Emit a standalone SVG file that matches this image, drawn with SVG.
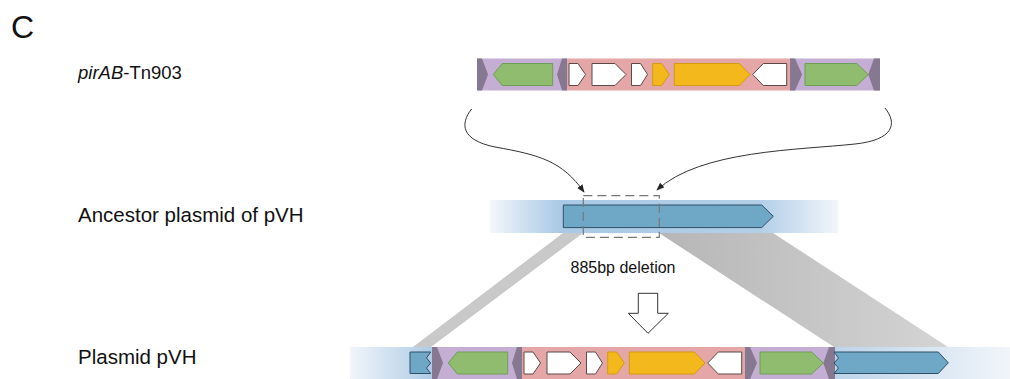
<svg xmlns="http://www.w3.org/2000/svg" xmlns:xlink="http://www.w3.org/1999/xlink" width="1010" height="379" viewBox="0 0 1010 379">
  <style>
    .lbl { font-family: "Liberation Sans", Arial, sans-serif; fill: #111; }
    .is { fill: #c4aed4; }
    .core { fill: #e4a6a6; }
    .ir { fill: #857890; }
    .tnp { fill: #8fbc6f; stroke: #6e9e55; stroke-width: 1; }
    .wht { fill: #ffffff; stroke: #5a4a4a; stroke-width: 1; }
    .yel { fill: #f3b81b; stroke: #d49a12; stroke-width: 1; }
    .blu { fill: #6fa8c6; stroke: #2f4f66; stroke-width: 1; }
    .curve { fill: none; stroke: #333; stroke-width: 1; marker-end: url(#tip); }
  </style>
  <defs>
    <marker id="tip" viewBox="0 0 10 10" refX="9" refY="5" markerWidth="8" markerHeight="8" markerUnits="userSpaceOnUse" orient="auto">
      <path d="M0,1 L10,5 L0,9 z" fill="#222"/>
    </marker>
    <linearGradient id="bgAnc" x1="0" y1="0" x2="1" y2="0">
      <stop offset="0" stop-color="#f4f7fb"/>
      <stop offset="0.2" stop-color="#a9c9e6"/>
      <stop offset="0.78" stop-color="#b3cfe8"/>
      <stop offset="1" stop-color="#f1f5fa"/>
    </linearGradient>
    <linearGradient id="bgLeft" x1="0" y1="0" x2="1" y2="0">
      <stop offset="0" stop-color="#f1f5fa"/>
      <stop offset="1" stop-color="#aecbe6"/>
    </linearGradient>
    <linearGradient id="bgRight" x1="0" y1="0" x2="1" y2="0">
      <stop offset="0" stop-color="#bcd4ea"/>
      <stop offset="1" stop-color="#f1f5fa"/>
    </linearGradient>
    <linearGradient id="bandR" x1="0" y1="0" x2="1" y2="0">
      <stop offset="0" stop-color="#b6b6b6"/>
      <stop offset="1" stop-color="#d4d4d4"/>
    </linearGradient>
    <!-- IS903-flanked pirAB cassette, local frame 403 x 32 -->
    <g id="cassette">
      <rect class="is" x="0" y="0" width="90" height="32"/>
      <rect class="core" x="90" y="0" width="223" height="32"/>
      <rect class="is" x="313" y="0" width="90" height="32"/>
      <polygon class="ir" points="0,0 5,0 11,16 5,32 0,32"/>
      <polygon class="tnp" points="16.3,16 25.3,5 75.7,5 75.7,27 25.3,27"/>
      <polygon class="ir" points="80,16 85,0 90,0 90,32 85,32"/>
      <polygon class="wht" points="92,5 101,5 108.5,16 101,27 92,27"/>
      <polygon class="wht" points="115,5 138,5 149,16 138,27 115,27"/>
      <polygon class="wht" points="154.5,5 163.5,5 170.5,16 163.5,27 154.5,27"/>
      <polygon class="yel" points="175.7,5 184.7,5 192.3,16 184.7,27 175.7,27"/>
      <polygon class="yel" points="197.3,5 262.3,5 273,16 262.3,27 197.3,27"/>
      <polygon class="wht" points="275.7,16 286.3,5 309.7,5 309.7,27 286.3,27"/>
      <polygon class="ir" points="313,0 318,0 325,16 318,32 313,32"/>
      <polygon class="tnp" points="328,5 379.7,5 391.3,16 379.7,27 328,27"/>
      <polygon class="ir" points="391.3,16 397,0 403,0 403,32 397,32"/>
    </g>
  </defs>

  <rect width="1010" height="379" fill="#ffffff"/>

  <!-- panel letter and row labels -->
  <text class="lbl" x="11" y="38" font-size="32">C</text>
  <text class="lbl" x="78" y="79" font-size="18.5"><tspan font-style="italic">pirAB</tspan>-Tn903</text>
  <text class="lbl" x="78" y="222" font-size="20.5">Ancestor plasmid of pVH</text>
  <text class="lbl" x="78" y="364" font-size="20.5">Plasmid pVH</text>
  <text class="lbl" x="570.5" y="273.3" font-size="16">885bp deletion</text>

  <!-- connectors: homology bands, insertion curves, deletion arrow -->
  <g id="connectors">
    <polygon points="563,233 583,233 431,347 413,347" fill="#c9c9c9"/>
    <polygon points="659,233 773,233 948,347 834,347" fill="url(#bandR)"/>
    <path class="curve" d="M471.5,109 C460,124 461,140 495,147 C540,155 562,161 584,192"/>
    <path class="curve" d="M885,108 C898,124 893,140 855,144 C800,150 700,150 657,190"/>
    <polygon points="638.3,293.3 657.7,293.3 657.7,313.3 668.3,313.3 648,333.3 628.3,313.3 638.3,313.3" fill="#ffffff" stroke="#333" stroke-width="1"/>
  </g>

  <!-- transposon -->
  <g id="tn903">
    <use xlink:href="#cassette" href="#cassette" transform="translate(477,58.5)"/>
  </g>

  <!-- ancestral plasmid segment -->
  <g id="ancestor">
    <rect x="490" y="200" width="348" height="33" fill="url(#bgAnc)"/>
    <polygon class="blu" points="563.3,205 761.7,205 773.3,216.3 761.7,227.6 563.3,227.6"/>
    <rect x="583.3" y="195.7" width="76" height="41.6" fill="none" stroke="#777" stroke-width="1.2" stroke-dasharray="9 5"/>
  </g>

  <!-- pVH with inserted transposon -->
  <g id="pvh">
    <rect x="350" y="347" width="82" height="32" fill="url(#bgLeft)"/>
    <rect x="834" y="347" width="176" height="32" fill="url(#bgRight)"/>
    <polygon class="blu" points="410,352 430.7,352 426.5,358 430.7,363 426.5,368 430.7,373.5 410,373.5"/>
    <use xlink:href="#cassette" href="#cassette" transform="translate(432,347)"/>
    <polygon class="blu" points="834,352 938.3,352 948.3,362.8 938.3,373.5 834,373.5 838.5,368 834,363 838.5,358"/>
  </g>
</svg>
